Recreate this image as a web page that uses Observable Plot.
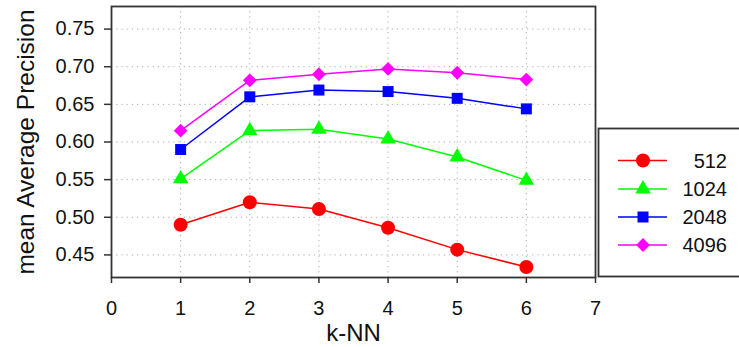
<!DOCTYPE html>
<html>
<head>
<meta charset="utf-8">
<script src="https://cdn.jsdelivr.net/npm/d3@7"></script>
<script src="https://cdn.jsdelivr.net/npm/@observablehq/plot@0.6"></script>
<style>
  html, body { margin: 0; padding: 0; background: #fff; }
  #chart { position: relative; width: 739px; height: 347px; overflow: hidden; }
</style>
</head>
<body>
<div id="chart"></div>
<script>
// ---- data ----
const kValues = [1, 2, 3, 4, 5, 6];
const seriesNames = ["512", "1024", "2048", "4096"];
const map512  = [0.490, 0.520, 0.511, 0.486, 0.457, 0.434];
const map1024 = [0.551, 0.615, 0.617, 0.604, 0.580, 0.549];
const map2048 = [0.590, 0.660, 0.669, 0.667, 0.658, 0.644];
const map4096 = [0.615, 0.682, 0.690, 0.697, 0.692, 0.683];
const xTicks = [0, 1, 2, 3, 4, 5, 6, 7];
const yTicks = [0.45, 0.50, 0.55, 0.60, 0.65, 0.70, 0.75];
const seriesColors = ["#ff0000", "#00ff00", "#0000ff", "#ff00ff"];
const seriesSymbols = ["circle", "triangle2", "square", "diamond2"];
const seriesSizes = [7, 7.4, 6.2, 6.2];

const seriesValues = [map512, map1024, map2048, map4096];
const rows = [];
seriesNames.forEach((s, i) => kValues.forEach((k, j) => rows.push({series: s, k, map: seriesValues[i][j], r: seriesSizes[i]})));

const font = "'Liberation Sans', Arial, sans-serif";
const ink = "#333";

const plot = Plot.plot({
  width: 739,
  height: 347,
  marginLeft: 111,
  marginRight: 144,
  marginTop: 6,
  marginBottom: 70,
  style: {fontFamily: font, fontSize: "20px", color: "#111", background: "#fff", overflow: "visible"},
  x: {domain: [0, 7]},
  y: {domain: [0.42, 0.78]},
  r: {type: "identity"},
  color: {domain: seriesNames, range: seriesColors},
  symbol: {domain: seriesNames, range: seriesSymbols},
  marks: [
    Plot.gridX({ticks: kValues, stroke: "#aaa", strokeOpacity: 1, strokeDasharray: "1.2,4"}),
    Plot.gridY({ticks: yTicks, stroke: "#aaa", strokeOpacity: 1, strokeDasharray: "1.2,4"}),
    Plot.axisX({ticks: xTicks, tickSize: 6, tickPadding: 17, tickFormat: d3.format("d"), label: null, stroke: ink, strokeWidth: 1.5}),
    Plot.axisY({ticks: yTicks, tickSize: 7, tickPadding: 10, tickFormat: d3.format(".2f"), label: null, stroke: ink, strokeWidth: 1.5}),
    Plot.line(rows, {x: "k", y: "map", z: "series", stroke: "series", strokeWidth: 1.5}),
    Plot.dot(rows, {x: "k", y: "map", symbol: "series", fill: "series", stroke: "none", r: "r"}),
    Plot.frame({stroke: ink, strokeWidth: 1.8}),
    Plot.text(["mean Average Precision"], {text: d => d, frameAnchor: "left", dx: -85, rotate: -90, fontSize: 24.5, textAnchor: "middle", lineAnchor: "middle", fill: "#111"}),
    Plot.text(["k-NN"], {text: d => d, frameAnchor: "bottom", dy: 56, fontSize: 24, textAnchor: "middle", lineAnchor: "middle", fill: "#111"})
  ]
});
plot.style.position = "absolute";
plot.style.left = "0px";
plot.style.top = "0px";
document.getElementById("chart").appendChild(plot);

// ---- legend ----
const svg = d3.select(plot);
const lg = svg.append("g").attr("font-family", font).attr("font-size", 20);
lg.append("rect").attr("x", 598.5).attr("y", 128.5).attr("width", 160).attr("height", 148)
  .attr("fill", "#fff").attr("stroke", ink).attr("stroke-width", 1.8);
const symMap = {circle: d3.symbolCircle, triangle2: d3.symbolTriangle2, square: d3.symbolSquare, diamond2: d3.symbolDiamond2};
const legendY = [160.5, 189, 217, 245];
seriesNames.forEach((s, i) => {
  const y = legendY[i];
  lg.append("line").attr("x1", 618).attr("x2", 667).attr("y1", y).attr("y2", y)
    .attr("stroke", seriesColors[i]).attr("stroke-width", 1.5);
  lg.append("path").attr("transform", `translate(643,${y})`)
    .attr("d", d3.symbol(symMap[seriesSymbols[i]], Math.PI * seriesSizes[i] * seriesSizes[i])())
    .attr("fill", seriesColors[i]);
  lg.append("text").attr("x", 727).attr("y", y).attr("dy", "0.36em").attr("text-anchor", "end")
    .attr("fill", "#111").text(s);
});
</script>
</body>
</html>
